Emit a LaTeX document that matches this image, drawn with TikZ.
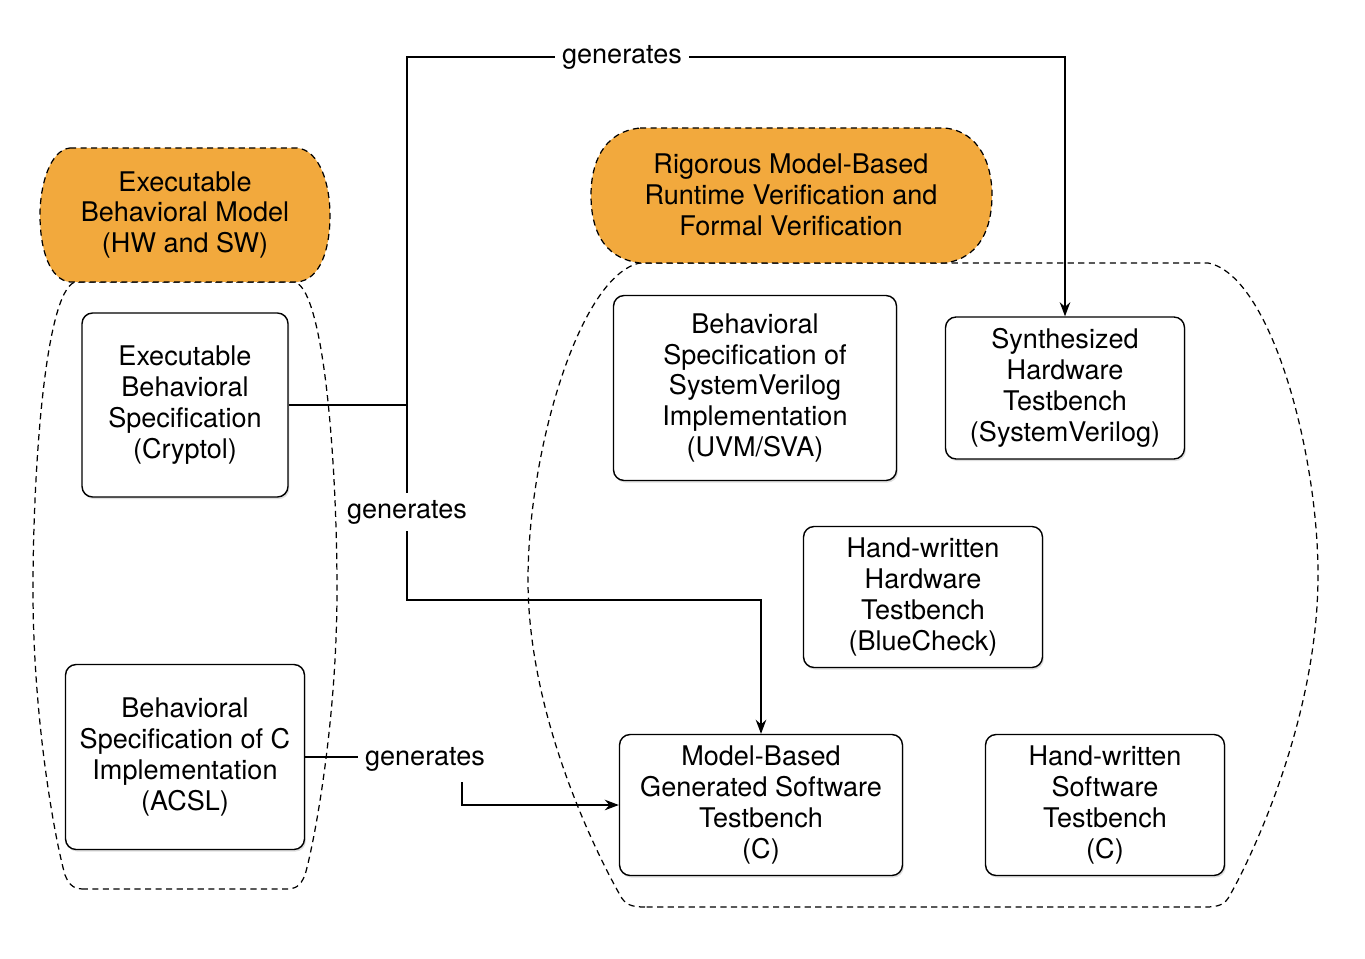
\documentclass[tikz,border=0pt]{standalone}
\usepackage{fontspec}
\setmainfont{TeX Gyre Heros}
\usepackage{xcolor}
\usepackage{tikz}
\usetikzlibrary{arrows.meta,positioning,shadows}
\definecolor{blobfill}{RGB}{242,169,61}

\begin{document}
\begin{tikzpicture}[
  x=0.02cm, y=-0.02cm,
  every node/.style={font=\fontsize{15.4}{17.6}\selectfont},
  box/.style={draw, rectangle, rounded corners=6pt, line width=0.8pt, fill=white, align=center,
    drop shadow={opacity=0.25, shadow xshift=0.8pt, shadow yshift=-1.2pt}},
  widebox/.style={box, minimum width=5.66cm},
  narrowbox/.style={box, minimum width=4.78cm},
  region/.style={line width=0.7pt, dash pattern=on 3.5pt off 2.5pt},
  blob/.style={region, fill=blobfill},
  ptr/.style={-{Stealth[length=8pt, width=6pt]}, line width=0.8pt},
  lbl/.style={fill=white, inner sep=4pt}
]
\useasboundingbox (0,0) rectangle (1365,959);

% Dashed groups
\draw[region] (85,889) .. controls (75,889) and (70,887) .. (65,875)
  .. controls (55,840) and (33,720) .. (33,590)
  .. controls (33,470) and (45,292) .. (75,282) -- (295,282)
  .. controls (325,292) and (337,470) .. (337,590)
  .. controls (337,720) and (315,840) .. (305,875)
  .. controls (300,887) and (295,889) .. (285,889) -- cycle;
\draw[region] (645,907) .. controls (632,907) and (625,905) .. (620,895)
  .. controls (600,860) and (528,720) .. (528,580)
  .. controls (528,450) and (580,275) .. (640,263) -- (1208,263)
  .. controls (1270,275) and (1318,450) .. (1318,575)
  .. controls (1318,720) and (1250,860) .. (1230,895)
  .. controls (1225,905) and (1218,907) .. (1205,907) -- cycle;

% Orange headers
\draw[blob] (70,148) -- (297,148) .. controls (320,150) and (330,185) .. (330,215)
  .. controls (330,250) and (320,280) .. (297,282) -- (70,282)
  .. controls (50,280) and (40,250) .. (40,215)
  .. controls (40,185) and (50,150) .. (70,148) -- cycle;
\draw[blob] (640,128) -- (945,128) .. controls (980,132) and (992,165) .. (992,195)
  .. controls (992,228) and (980,258) .. (945,263) -- (640,263)
  .. controls (602,258) and (591,228) .. (591,195)
  .. controls (591,165) and (602,132) .. (640,128) -- cycle;
\node[align=center] (ebm) at (185,215) {Executable\\Behavioral Model\\(HW and SW)};
\node[align=center] (rmb) at (791,195) {Rigorous Model-Based\\Runtime Verification and\\Formal Verification};

% Left group
\node[box, minimum width=4.12cm, minimum height=3.68cm] (cry) at (185,405)
  {Executable\\Behavioral\\Specification\\(Cryptol)};
\node[box, minimum width=4.78cm, minimum height=3.7cm] (acsl) at (185,757)
  {Behavioral\\Specification of C\\Implementation\\(ACSL)};

% Right group
\node[widebox, minimum height=3.7cm] (sva) at (755,388)
  {Behavioral\\Specification of\\SystemVerilog\\Implementation\\(UVM/SVA)};
\node[narrowbox, minimum height=2.84cm] (syn) at (1065,388)
  {Synthesized\\Hardware\\Testbench\\(SystemVerilog)};
\node[narrowbox, minimum height=2.82cm] (bc) at (923,597)
  {Hand-written\\Hardware\\Testbench\\(BlueCheck)};
\node[widebox, minimum height=2.82cm] (mb) at (761,805)
  {Model-Based\\Generated Software\\Testbench\\(C)};
\node[narrowbox, minimum height=2.82cm] (hsw) at (1105,805)
  {Hand-written\\Software\\Testbench\\(C)};

% Generation edges
\coordinate (jn) at (407,405);
\coordinate (tp) at (407,57);
\coordinate (bt) at (407,600);
\coordinate (kn) at (462,805);
\draw[line width=0.8pt] (cry.east) -- (jn);
\draw[ptr] (jn) -- (tp) -| (syn.north);
\draw[ptr] (jn) -- (bt) -| (mb.north);
\draw[ptr] (acsl.east) -| (kn) -- (mb.west);

% Edge labels
\node[lbl] (gtop) at (622,57) {generates};
\node[lbl] (gmid) at (407,512) {generates};
\node[lbl, inner ysep=6pt] (gbot) at (425,759) {generates};
\end{tikzpicture}
\end{document}
